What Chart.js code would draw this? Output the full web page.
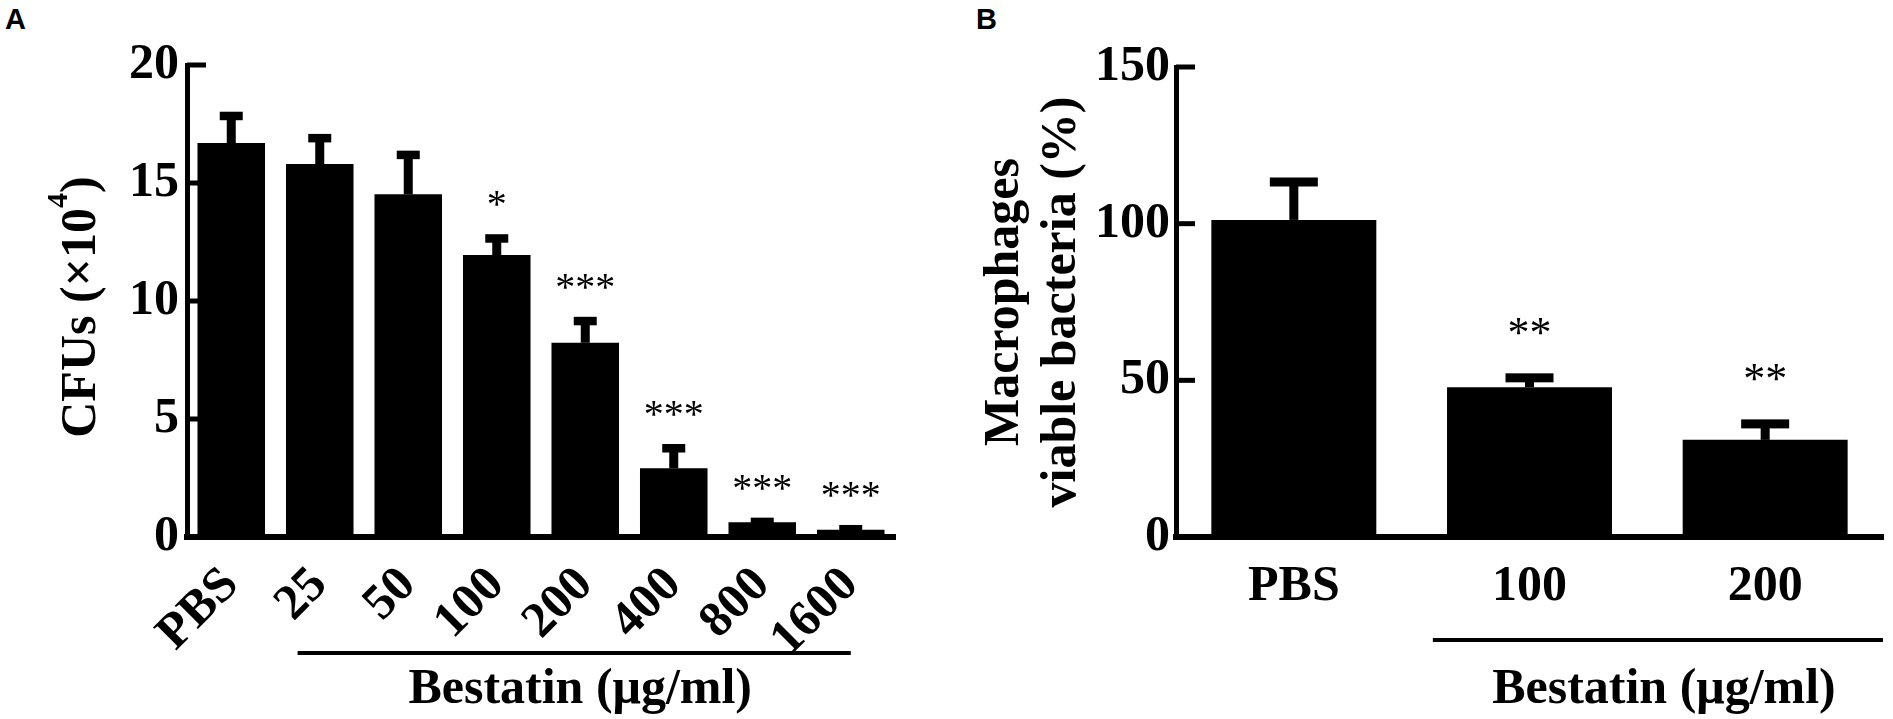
<!DOCTYPE html>
<html><head><meta charset="utf-8">
<script src="https://cdn.jsdelivr.net/npm/chart.js@4.4.0/dist/chart.umd.min.js"></script>
<style>
html,body{margin:0;padding:0;background:#fff;width:1893px;height:719px;overflow:hidden;}
.panel{position:absolute;top:0;height:719px;}
#pa{left:0;width:946px;}
#pb{left:946px;width:947px;}
.lbl{position:absolute;font-family:"Liberation Sans",Arial,sans-serif;font-weight:bold;font-size:29px;line-height:1;color:#000;}
</style></head><body>
<div class="lbl" style="left:5px;top:5px;">A</div>
<div class="lbl" style="left:976px;top:5px;">B</div>
<div class="panel" id="pa"><canvas id="ca" width="946" height="719"></canvas></div>
<div class="panel" id="pb"><canvas id="cb" width="947" height="719"></canvas></div>
<script>
// ---- Panel A data ----
const catsA = ['PBS', '25', '50', '100', '200', '400', '800', '1600'];
const meanA = [16.69, 15.8, 14.52, 11.95, 8.23, 2.91, 0.62, 0.31];
const semA = [1.15, 1.1, 1.67, 0.7, 0.92, 0.85, 0.02, 0.02];
const starsA = ['', '', '', '*', '***', '***', '***', '***'];
const ticksA = [0, 5, 10, 15, 20];
const titleA = ['CFUs (×10', '4', ')'];
// ---- Panel B data ----
const catsB = ['PBS', '100', '200'];
const meanB = [101.2, 47.8, 31.0];
const semB = [12.1, 3.0, 5.1];
const starsB = ['', '**', '**'];
const ticksB = [0, 50, 100, 150];
const titleB = ['Macrophages', 'viable bacteria (%)'];
const groupLabel = 'Bestatin (μg/ml)';

const serif = '"Liberation Serif","Times New Roman",Times,serif';

const decor = {
  id: 'decor',
  beforeDatasetsDraw(chart, args, o) {
    const ctx = chart.ctx, y = chart.scales.y, ca = chart.chartArea;
    ctx.save();
    ctx.fillStyle = '#000';
    y.ticks.forEach(t => {
      const py = y.getPixelForValue(t.value);
      ctx.fillRect(ca.left, py - o.tickW / 2, o.tickLen, o.tickW);
    });
    ctx.restore();
  },
  afterDatasetsDraw(chart, args, o) {
    const ctx = chart.ctx, x = chart.scales.x, y = chart.scales.y, ca = chart.chartArea;
    const meta = chart.getDatasetMeta(0);
    const vals = chart.data.datasets[0].data;
    ctx.save();
    ctx.fillStyle = '#000';
    meta.data.forEach((bar, i) => {
      const top = y.getPixelForValue(vals[i] + o.sem[i]);
      ctx.fillRect(bar.x - o.stemW / 2, top, o.stemW, bar.y - top);
      ctx.fillRect(bar.x - o.capW / 2, top - o.capH / 2, o.capW, o.capH);
      if (o.stars[i]) {
        ctx.font = 'normal ' + o.starSize + 'px ' + serif;
        ctx.textAlign = 'center';
        ctx.textBaseline = 'alphabetic';
        ctx.fillText(o.stars[i], bar.x, top - o.starGap);
      }
    });
    const cw = x.getPixelForValue(1) - x.getPixelForValue(0);
    const x1 = x.getPixelForValue(o.groupFrom) + o.fromFrac * cw;
    const x2 = x.getPixelForValue(o.groupTo) + o.toFrac * cw;
    ctx.fillRect(x1, ca.bottom + o.lineDy - o.lineW / 2, x2 - x1, o.lineW);
    ctx.font = 'bold 50px ' + serif;
    ctx.textAlign = 'center';
    ctx.textBaseline = 'alphabetic';
    ctx.fillText(groupLabel, (x1 + x2) / 2 + o.textDx, ca.bottom + o.textDy);
    // composite rotated y title (with superscript)
    if (o.yTitle) {
      const parts = [
        {t: o.yTitle[0], s: 50, r: 0},
        {t: o.yTitle[1], s: 30, r: 28},
        {t: o.yTitle[2], s: 50, r: 0}
      ];
      let total = 0;
      parts.forEach(p => { ctx.font = 'bold ' + p.s + 'px ' + serif; p.w = ctx.measureText(p.t).width; total += p.w; });
      ctx.translate(y.left + o.yTitleBase, (ca.top + ca.bottom) / 2 + o.yTitleDy);
      ctx.rotate(-Math.PI / 2);
      ctx.textAlign = 'left';
      let cx = -total / 2;
      parts.forEach(p => {
        ctx.font = 'bold ' + p.s + 'px ' + serif;
        ctx.fillText(p.t, cx, -p.r);
        cx += p.w;
      });
    }
    ctx.restore();
  }
};

const tickFont = {family: serif, weight: 'bold', size: 50};

new Chart(document.getElementById('ca'), {
  type: 'bar',
  data: {labels: catsA, datasets: [{data: meanA, backgroundColor: '#000', borderWidth: 0, barPercentage: 0.763, categoryPercentage: 1}]},
  options: {
    responsive: false, animation: false,
    layout: {padding: {top: 65, right: 51, left: 0, bottom: 0}},
    plugins: {
      legend: {display: false}, tooltip: {enabled: false},
      decor: {sem: semA, stars: starsA, starSize: 40, starGap: 21, stemW: 9, capW: 23, capH: 8.5,
              tickLen: 19, tickW: 5, groupFrom: 1, groupTo: 7, fromFrac: -0.25, toFrac: 0,
              lineDy: 116, lineW: 4, textDy: 166, textDx: 6,
              yTitle: titleA, yTitleBase: 95, yTitleDy: 6}
    },
    scales: {
      x: {
        grid: {display: false, drawTicks: false},
        border: {display: true, color: '#000', width: 6},
        ticks: {color: '#000', font: tickFont, minRotation: 45, maxRotation: 45, padding: 19, autoSkip: false},
        afterFit(s) { s.height = 182; }
      },
      y: {
        min: ticksA[0], max: ticksA[ticksA.length - 1],
        grid: {display: false, drawTicks: false},
        border: {display: true, color: '#000', width: 5},
        ticks: {color: '#000', font: tickFont, padding: 8},
        afterBuildTicks(s) { s.ticks = ticksA.map(v => ({value: v})); },
        afterFit(s) { s.width = 187; }
      }
    }
  },
  plugins: [decor]
});

new Chart(document.getElementById('cb'), {
  type: 'bar',
  data: {labels: catsB, datasets: [{data: meanB, backgroundColor: '#000', borderWidth: 0, barPercentage: 0.70, categoryPercentage: 1}]},
  options: {
    responsive: false, animation: false,
    layout: {padding: {top: 67, right: 10, left: 0, bottom: 0}},
    plugins: {
      legend: {display: false}, tooltip: {enabled: false},
      decor: {sem: semB, stars: starsB, starSize: 44, starGap: 31, stemW: 9, capW: 48, capH: 9,
              tickLen: 19, tickW: 5, groupFrom: 1, groupTo: 2, fromFrac: -0.41, toFrac: 0.5,
              lineDy: 103, lineW: 4, textDy: 166, textDx: 6}
    },
    scales: {
      x: {
        grid: {display: false, drawTicks: false},
        border: {display: true, color: '#000', width: 6},
        ticks: {color: '#000', font: tickFont, maxRotation: 0, minRotation: 0, padding: 20, autoSkip: false},
        afterFit(s) { s.height = 182; }
      },
      y: {
        min: ticksB[0], max: ticksB[ticksB.length - 1],
        grid: {display: false, drawTicks: false},
        border: {display: true, color: '#000', width: 5},
        ticks: {color: '#000', font: tickFont, padding: 6},
        afterBuildTicks(s) { s.ticks = ticksB.map(v => ({value: v})); },
        afterFit(s) { s.width = 230; },
        title: {display: true, text: titleB, color: '#000', font: {family: serif, weight: 'bold', size: 50, lineHeight: 1.14}, padding: {top: 31, bottom: 0}}
      }
    }
  },
  plugins: [decor]
});
</script>
</body></html>
